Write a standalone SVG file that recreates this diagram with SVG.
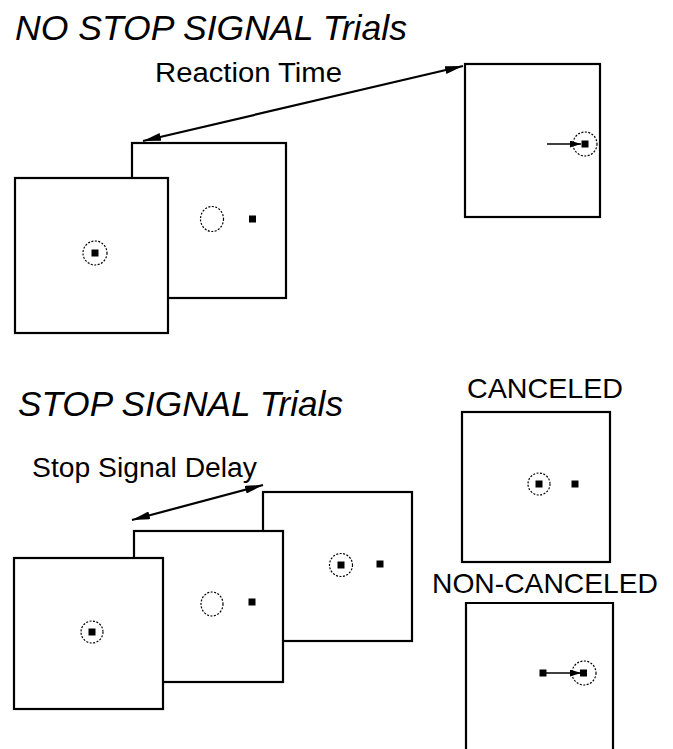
<svg xmlns="http://www.w3.org/2000/svg" width="673" height="749" viewBox="0 0 673 749">
<style>
.box{fill:#fff;stroke:#000;stroke-width:2.2}
.ring{fill:none;stroke:#000;stroke-width:1.2;stroke-dasharray:2 1.5}
.dot{fill:#000}
.title{font-family:"Liberation Sans",Arial,sans-serif;font-style:italic;font-size:35px;fill:#000}
.lbl{font-family:"Liberation Sans",Arial,sans-serif;font-size:27px;fill:#000}
.cap{font-family:"Liberation Sans",Arial,sans-serif;font-size:28px;fill:#000}
.conn{stroke:#000;stroke-width:2.2;fill:none}
.thin{stroke:#000;stroke-width:1.3;fill:none}
</style>
<defs>
<marker id="ah" viewBox="0 0 18 8" refX="18" refY="4" markerWidth="18" markerHeight="8" markerUnits="userSpaceOnUse" orient="auto-start-reverse">
<path d="M0,0 L18,4 L0,8 z" fill="#000"/>
</marker>
<marker id="ahs" viewBox="0 0 11 7" refX="11" refY="3.5" markerWidth="11" markerHeight="7" markerUnits="userSpaceOnUse" orient="auto">
<path d="M0,0 L11,3.5 L0,7 z" fill="#000"/>
</marker>
</defs>
<rect width="673" height="749" fill="#fff"/>

<text class="title" x="15" y="40" textLength="392" lengthAdjust="spacingAndGlyphs">NO STOP SIGNAL Trials</text>
<text class="lbl" x="155" y="82" textLength="187" lengthAdjust="spacingAndGlyphs">Reaction Time</text>
<text class="title" x="18" y="416" textLength="325" lengthAdjust="spacingAndGlyphs">STOP SIGNAL Trials</text>
<text class="lbl" x="32" y="477" textLength="225" lengthAdjust="spacingAndGlyphs">Stop Signal Delay</text>
<text class="cap" x="467" y="398" textLength="156" lengthAdjust="spacingAndGlyphs">CANCELED</text>
<text class="cap" x="432" y="593" textLength="226" lengthAdjust="spacingAndGlyphs">NON-CANCELED</text>

<g id="ns-target">
<rect class="box" x="132" y="143" width="154" height="155"/>
<ellipse class="ring" cx="212" cy="219" rx="11.5" ry="12.5"/>
<rect class="dot" x="249" y="215.5" width="7" height="7"/>
</g>
<g id="ns-fixation">
<rect class="box" x="15" y="178" width="153" height="155"/>
<circle class="ring" cx="95" cy="253" r="12"/>
<rect class="dot" x="91.5" y="249.5" width="7" height="7"/>
</g>
<g id="ns-response">
<rect class="box" x="465" y="64" width="135" height="153"/>
<circle class="ring" cx="585" cy="144" r="12"/>
<rect class="dot" x="581.5" y="140.5" width="7" height="7"/>
</g>

<g id="ss-signal">
<rect class="box" x="263" y="492" width="149" height="149"/>
<circle class="ring" cx="341" cy="565" r="11.5"/>
<rect class="dot" x="337.5" y="561.5" width="7" height="7"/>
<rect class="dot" x="376.5" y="560.5" width="7" height="7"/>
</g>
<g id="ss-target">
<rect class="box" x="134" y="531" width="149" height="151"/>
<ellipse class="ring" cx="212" cy="604" rx="11" ry="12"/>
<rect class="dot" x="248.5" y="598.5" width="7" height="7"/>
</g>
<g id="ss-fixation">
<rect class="box" x="14" y="558" width="149" height="151"/>
<circle class="ring" cx="92" cy="632" r="11"/>
<rect class="dot" x="88.5" y="628.5" width="7" height="7"/>
</g>

<g id="canceled">
<rect class="box" x="462" y="412" width="148" height="150"/>
<circle class="ring" cx="539" cy="484" r="11"/>
<rect class="dot" x="535.5" y="480.5" width="7" height="7"/>
<rect class="dot" x="571.5" y="480.5" width="7" height="7"/>
</g>
<g id="non-canceled">
<path class="box" d="M466,752 V603 H613 V752"/>
<circle class="ring" cx="584" cy="673" r="12"/>
<rect class="dot" x="539.5" y="669.5" width="7" height="7"/>
<rect class="dot" x="580" y="669.5" width="7" height="7"/>
</g>

<g id="connectors">
<line class="conn" x1="143" y1="141" x2="463" y2="66" marker-start="url(#ah)" marker-end="url(#ah)"/>
<line class="conn" x1="132" y1="520" x2="263" y2="485" marker-start="url(#ah)" marker-end="url(#ah)"/>
<line class="thin" x1="547" y1="144" x2="581" y2="144" marker-end="url(#ahs)"/>
<line class="thin" x1="546" y1="673" x2="581" y2="673" marker-end="url(#ahs)"/>
</g>
</svg>
